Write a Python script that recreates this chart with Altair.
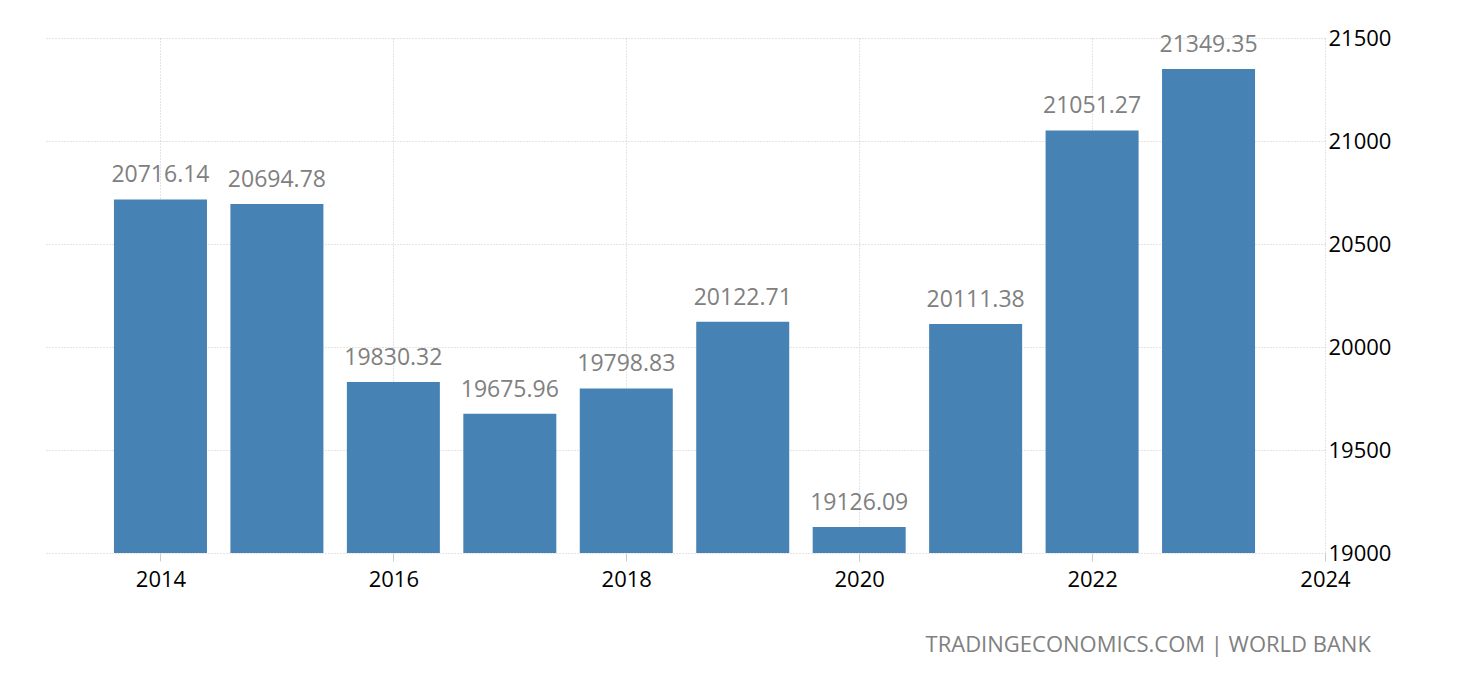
import altair as alt
import pandas as pd

years = [2014, 2015, 2016, 2017, 2018, 2019, 2020, 2021, 2022, 2023]
values = [20716.14, 20694.78, 19830.32, 19675.96, 19798.83, 20122.71, 19126.09, 20111.38, 21051.27, 21349.35]
labels = ["20716.14", "20694.78", "19830.32", "19675.96", "19798.83", "20122.71", "19126.09", "20111.38", "21051.27", "21349.35"]
x_ticks = [2014, 2016, 2018, 2020, 2022, 2024]
y_ticks = [19000, 19500, 20000, 20500, 21000, 21500]

df = pd.DataFrame({"year": years, "value": values, "label": labels})

FONT = "Open Sans"

x_scale = alt.Scale(domain=[2013, 2024], nice=False, zero=False, padding=0)
y_scale = alt.Scale(domain=[19000, 21500], nice=False, zero=False, padding=0)

x_axis = alt.Axis(values=x_ticks, format="d", title=None, grid=True,
                  gridColor="#c8c8c8", gridDash=[1, 2], gridWidth=1,
                  domain=False, ticks=True, tickSize=8, tickColor="#cccccc",
                  labelFlush=False, labelBound=False,
                  labelFont=FONT, labelFontSize=22, labelColor="#000000",
                  labelPadding=8)
y_axis = alt.Axis(orient="right", values=y_ticks, format="d", title=None,
                  grid=True, gridColor="#c8c8c8", gridDash=[1, 2], gridWidth=1,
                  domain=False, ticks=False, labelPadding=3, labelFlush=False,
                  labelFont=FONT, labelFontSize=22, labelColor="#000000")

base = alt.Chart(df)

bars = base.mark_bar(color="#4682B4", size=93).encode(
    x=alt.X("year:Q", scale=x_scale, axis=x_axis),
    y=alt.Y("value:Q", scale=y_scale, axis=y_axis),
    y2=alt.datum(19000),
)

text = base.mark_text(font=FONT, fontSize=23, color="#808080", baseline="alphabetic",
                      align="center", dy=-17).encode(
    x=alt.X("year:Q", scale=x_scale, axis=x_axis),
    y=alt.Y("value:Q", scale=y_scale, axis=y_axis),
    text="label:N",
)

chart = (bars + text).properties(
    width=1281,
    height=515,
    background="white",
    padding={"left": 44, "top": 27, "right": 10, "bottom": 10},
    autosize=alt.AutoSizeParams(type="pad"),
    title=alt.TitleParams(
        "TRADINGECONOMICS.COM | WORLD BANK",
        orient="bottom", anchor="end", font=FONT, fontSize=22, fontWeight="normal",
        color="#808080", offset=45, dx=-20,
    ),
).configure_view(stroke=None, strokeWidth=0)

chart.save("out.html", embed_options={"renderer": "svg", "actions": False})
